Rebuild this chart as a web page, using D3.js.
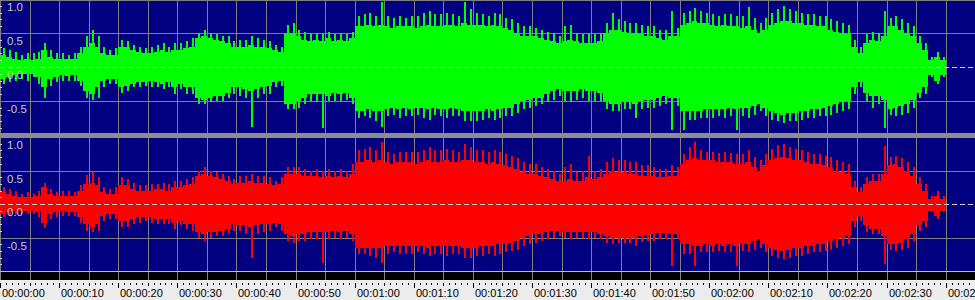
<!DOCTYPE html>
<html lang="en">
  <head>
    <meta charset="utf-8" />
    <script src="https://d3js.org/d3.v7.min.js"></script>
    <style>
      body { margin: 0; background: #ececec; }
      svg { display: block; }
    </style>
  </head>
  <body>
    <script type="text/javascript">

      // ---- data (one value per second) ----
      // left channel (green): body of the wave, then the thin peaks
      var greenHi = [
        .18,.15,.12,.10,.12,.10,.12,.25,.15,.12,
        .12,.12,.12,.20,.30,.35,.30,.20,.18,.18,
        .30,.30,.25,.22,.20,.20,.22,.25,.22,.25,
        .25,.28,.30,.42,.45,.42,.40,.38,.35,.30,
        .30,.30,.32,.30,.30,.28,.25,.22,.50,.50,
        .45,.40,.38,.40,.38,.42,.38,.40,.38,.42,
        .60,.60,.62,.60,.62,.60,.58,.60,.60,.60,
        .58,.60,.62,.60,.60,.62,.62,.60,.65,.62,
        .62,.62,.60,.62,.60,.58,.55,.50,.45,.45,
        .45,.42,.40,.38,.35,.38,.40,.38,.35,.35,
        .35,.38,.50,.55,.55,.52,.50,.50,.48,.45,
        .45,.42,.40,.45,.45,.62,.65,.68,.65,.65,
        .62,.60,.62,.60,.60,.58,.60,.55,.50,.55,
        .62,.65,.68,.68,.65,.65,.62,.62,.60,.60,
        .55,.52,.50,.48,.30,.20,.35,.40,.38,.45,
        .60,.60,.55,.50,.45,.35,.25,.10,.15,.10];
      var greenLo = [
        -.18,-.15,-.12,-.10,-.10,-.10,-.15,-.30,-.18,-.15,
        -.12,-.13,-.12,-.20,-.35,-.40,-.30,-.20,-.18,-.18,
        -.30,-.28,-.25,-.22,-.22,-.20,-.22,-.25,-.22,-.30,
        -.25,-.30,-.30,-.45,-.48,-.45,-.42,-.42,-.38,-.30,
        -.30,-.32,-.35,-.32,-.30,-.28,-.22,-.20,-.55,-.55,
        -.50,-.45,-.40,-.40,-.40,-.42,-.38,-.40,-.38,-.45,
        -.65,-.65,-.62,-.65,-.65,-.62,-.60,-.62,-.60,-.62,
        -.60,-.60,-.62,-.60,-.62,-.62,-.60,-.62,-.65,-.65,
        -.65,-.65,-.62,-.65,-.62,-.60,-.60,-.55,-.50,-.48,
        -.45,-.45,-.40,-.35,-.32,-.35,-.35,-.35,-.32,-.35,
        -.35,-.38,-.50,-.55,-.55,-.52,-.52,-.55,-.50,-.48,
        -.48,-.45,-.42,-.45,-.45,-.65,-.65,-.65,-.65,-.62,
        -.62,-.62,-.62,-.60,-.62,-.60,-.60,-.58,-.55,-.60,
        -.65,-.68,-.70,-.68,-.68,-.65,-.65,-.62,-.62,-.60,
        -.58,-.55,-.52,-.50,-.30,-.22,-.38,-.42,-.42,-.48,
        -.62,-.60,-.58,-.55,-.48,-.38,-.30,-.12,-.20,-.12];
      var greenPeakHi = [
        .28,.25,.22,.18,.20,.20,.22,.35,.25,.20,
        .20,.18,.20,.30,.45,.55,.45,.30,.25,.28,
        .40,.38,.33,.30,.28,.30,.32,.35,.30,.35,
        .35,.38,.42,.50,.55,.50,.48,.45,.45,.38,
        .40,.40,.45,.42,.40,.38,.32,.30,.62,.65,
        .55,.52,.50,.50,.48,.52,.48,.50,.48,.52,
        .75,.78,.80,.75,.95,.75,.72,.75,.72,.75,
        .75,.80,.82,.78,.78,.80,.78,.75,.95,.85,
        .80,.78,.75,.80,.78,.72,.70,.65,.60,.60,
        .58,.55,.52,.50,.45,.60,.62,.50,.48,.48,
        .48,.50,.65,.80,.70,.68,.65,.65,.62,.60,
        .60,.55,.55,.83,.58,.80,.82,.87,.82,.80,
        .78,.75,.78,.78,.75,.75,.88,.72,.65,.72,
        .80,.85,.90,.85,.82,.80,.78,.78,.75,.75,
        .70,.68,.65,.62,.40,.30,.48,.52,.50,.82,
        .72,.75,.70,.65,.60,.45,.35,.15,.22,.15];
      var greenPeakLo = [
        -.25,-.22,-.20,-.18,-.20,-.15,-.25,-.45,-.28,-.22,
        -.20,-.20,-.20,-.28,-.45,-.48,-.45,-.30,-.25,-.25,
        -.38,-.35,-.30,-.30,-.28,-.30,-.30,-.33,-.30,-.40,
        -.32,-.40,-.40,-.55,-.55,-.52,-.50,-.50,-.45,-.40,
        -.42,-.45,-.88,-.45,-.40,-.40,-.30,-.28,-.62,-.62,
        -.60,-.55,-.50,-.52,-.90,-.50,-.50,-.50,-.48,-.55,
        -.75,-.72,-.75,-.80,-.88,-.72,-.70,-.75,-.72,-.72,
        -.70,-.75,-.78,-.70,-.72,-.75,-.72,-.72,-.80,-.80,
        -.80,-.78,-.75,-.78,-.75,-.72,-.72,-.68,-.62,-.60,
        -.58,-.55,-.52,-.48,-.42,-.50,-.52,-.48,-.45,-.50,
        -.50,-.50,-.62,-.65,-.65,-.62,-.62,-.75,-.62,-.60,
        -.60,-.58,-.55,-.93,-.58,-.93,-.78,-.78,-.75,-.75,
        -.75,-.72,-.75,-.72,-.93,-.72,-.75,-.70,-.65,-.72,
        -.78,-.80,-.82,-.80,-.80,-.78,-.75,-.75,-.72,-.72,
        -.70,-.68,-.65,-.62,-.40,-.30,-.50,-.60,-.55,-.90,
        -.70,-.72,-.70,-.68,-.60,-.45,-.40,-.15,-.25,-.15];

      // right channel (red)
      var redHi = [
        .18,.15,.12,.10,.10,.10,.12,.25,.15,.12,
        .12,.12,.12,.20,.30,.32,.28,.18,.15,.15,
        .28,.28,.22,.20,.20,.20,.22,.22,.20,.25,
        .25,.28,.30,.42,.45,.42,.40,.38,.35,.30,
        .32,.32,.35,.32,.32,.30,.28,.30,.45,.45,
        .45,.42,.42,.42,.40,.42,.40,.42,.40,.45,
        .62,.62,.65,.62,.65,.62,.60,.62,.62,.62,
        .60,.62,.65,.62,.62,.65,.62,.62,.65,.65,
        .62,.62,.60,.62,.60,.58,.55,.52,.48,.45,
        .45,.42,.40,.38,.35,.35,.38,.35,.35,.40,
        .38,.40,.45,.50,.48,.48,.45,.45,.42,.42,
        .42,.40,.40,.42,.42,.60,.65,.68,.65,.65,
        .65,.62,.62,.62,.60,.60,.62,.55,.50,.58,
        .65,.68,.70,.68,.65,.65,.62,.60,.60,.58,
        .55,.50,.48,.45,.25,.18,.30,.35,.35,.45,
        .58,.60,.55,.50,.42,.30,.20,.08,.12,.08];
      var redLo = [
        -.15,-.12,-.10,-.10,-.10,-.10,-.12,-.28,-.15,-.12,
        -.10,-.12,-.12,-.20,-.30,-.35,-.30,-.18,-.15,-.15,
        -.25,-.25,-.22,-.20,-.20,-.20,-.22,-.22,-.22,-.28,
        -.25,-.30,-.30,-.42,-.45,-.42,-.42,-.40,-.38,-.30,
        -.32,-.32,-.35,-.32,-.30,-.30,-.28,-.30,-.45,-.48,
        -.45,-.45,-.42,-.42,-.42,-.42,-.40,-.42,-.40,-.45,
        -.65,-.65,-.65,-.65,-.65,-.62,-.62,-.62,-.62,-.62,
        -.62,-.62,-.65,-.62,-.62,-.62,-.62,-.62,-.65,-.65,
        -.65,-.62,-.62,-.62,-.60,-.60,-.58,-.55,-.50,-.48,
        -.45,-.45,-.42,-.40,-.40,-.42,-.42,-.42,-.42,-.42,
        -.42,-.45,-.48,-.50,-.50,-.50,-.50,-.50,-.48,-.46,
        -.45,-.44,-.44,-.45,-.45,-.60,-.60,-.62,-.62,-.60,
        -.62,-.60,-.62,-.60,-.62,-.60,-.60,-.55,-.52,-.60,
        -.65,-.68,-.70,-.68,-.65,-.65,-.62,-.62,-.60,-.60,
        -.55,-.52,-.50,-.48,-.25,-.18,-.32,-.38,-.38,-.48,
        -.60,-.60,-.58,-.52,-.45,-.32,-.25,-.10,-.18,-.10];
      var redPeakHi = [
        .25,.22,.20,.15,.18,.15,.20,.32,.22,.18,
        .20,.20,.18,.28,.43,.48,.40,.25,.22,.25,
        .40,.38,.32,.28,.28,.30,.30,.32,.30,.35,
        .35,.38,.40,.50,.55,.50,.48,.45,.42,.38,
        .42,.42,.45,.42,.42,.40,.35,.40,.55,.55,
        .55,.52,.50,.52,.50,.52,.50,.52,.50,.60,
        .80,.82,.85,.80,.92,.78,.75,.78,.78,.78,
        .78,.80,.85,.80,.80,.82,.80,.78,.90,.85,
        .80,.80,.78,.80,.78,.75,.72,.68,.62,.60,
        .60,.55,.52,.50,.45,.55,.60,.48,.50,.72,
        .50,.52,.62,.68,.65,.65,.62,.62,.58,.58,
        .55,.52,.52,.58,.55,.75,.85,.92,.80,.78,
        .78,.76,.78,.76,.75,.75,.80,.70,.65,.75,
        .82,.88,.90,.85,.82,.80,.78,.75,.75,.72,
        .70,.65,.62,.60,.35,.25,.40,.45,.45,.87,
        .70,.72,.68,.62,.55,.40,.30,.12,.20,.12];
      var redPeakLo = [
        -.20,-.18,-.15,-.15,-.15,-.15,-.20,-.36,-.22,-.20,
        -.18,-.18,-.18,-.28,-.40,-.42,-.40,-.25,-.22,-.22,
        -.35,-.35,-.30,-.28,-.26,-.28,-.30,-.30,-.30,-.38,
        -.32,-.38,-.40,-.50,-.55,-.50,-.48,-.48,-.45,-.40,
        -.40,-.45,-.80,-.45,-.42,-.40,-.35,-.40,-.55,-.58,
        -.55,-.55,-.52,-.52,-.88,-.52,-.50,-.52,-.50,-.55,
        -.75,-.75,-.78,-.80,-.88,-.75,-.72,-.75,-.75,-.75,
        -.72,-.75,-.78,-.75,-.75,-.78,-.75,-.75,-.80,-.80,
        -.78,-.78,-.75,-.78,-.75,-.72,-.70,-.68,-.62,-.60,
        -.58,-.55,-.52,-.50,-.48,-.50,-.52,-.50,-.50,-.52,
        -.50,-.52,-.58,-.60,-.58,-.58,-.58,-.62,-.56,-.55,
        -.55,-.52,-.52,-.93,-.52,-.75,-.75,-.93,-.72,-.72,
        -.72,-.70,-.72,-.72,-.92,-.70,-.72,-.68,-.65,-.72,
        -.78,-.80,-.82,-.80,-.78,-.78,-.75,-.72,-.72,-.70,
        -.68,-.65,-.62,-.60,-.35,-.25,-.42,-.45,-.45,-.90,
        -.68,-.70,-.68,-.65,-.55,-.40,-.35,-.12,-.22,-.12];

      // axis labels
      var timeTicks = [0, 10, 20, 30, 40, 50, 60, 70, 80, 90, 100, 110, 120, 130, 140, 150, 160];
      var timeLabels = ["00:00:00", "00:00:10", "00:00:20", "00:00:30", "00:00:40",
                        "00:00:50", "00:01:00", "00:01:10", "00:01:20", "00:01:30",
                        "00:01:40", "00:01:50", "00:02:00", "00:02:10", "00:02:20",
                        "00:02:30", "00:02:40"];
      var ampTicks = [1.0, 0.5, 0.0, -0.5];
      var ampLabels = ["1.0", "0.5", "0.0", "-0.5"];

      // ---- layout ----
      var w = 975;
      var h = 300;
      var bgBlue = "#000080";
      var gridGray = "#808080";

      var svg = d3.select("body")
                  .append("svg")
                  .attr("width", w)
                  .attr("height", h)
                  .style("font-family", "'Liberation Sans', Arial, sans-serif");

      // time scale, same for both channels
      var x = d3.scaleLinear()
                .domain([0, 160])
                .range([0, 945.7]);

      // one amplitude scale per channel
      var channels = [
        {hi: greenHi, lo: greenLo, pkHi: greenPeakHi, pkLo: greenPeakLo, color: "#00ff00",
         y: d3.scaleLinear().domain([-1, 1]).range([135, -1])},
        {hi: redHi, lo: redLo, pkHi: redPeakHi, pkLo: redPeakLo, color: "#ff0000",
         y: d3.scaleLinear().domain([-1, 1]).range([271, 137])}
      ];

      // backgrounds
      svg.append("rect").attr("width", w).attr("height", 272).attr("fill", bgBlue);
      svg.append("rect").attr("y", 272).attr("width", w).attr("height", 8).attr("fill", "#000");
      svg.append("rect").attr("y", 280).attr("width", w).attr("height", 20).attr("fill", "#ececec");

      // vertical grid every 5 seconds
      var gridSecs = d3.range(0, 170, 5);
      svg.append("g")
         .selectAll("line")
         .data(gridSecs)
         .enter()
         .append("line")
         .attr("x1", function(d) { return Math.round(x(d)) + 0.5; })
         .attr("x2", function(d) { return Math.round(x(d)) + 0.5; })
         .attr("y1", 0)
         .attr("y2", 280)
         .attr("stroke", gridGray);

      // horizontal grid and waves per channel
      channels.forEach(function(ch) {
        svg.append("g")
           .selectAll("line")
           .data([1, 0.5, -0.5])
           .enter()
           .append("line")
           .attr("x1", 0)
           .attr("x2", w)
           .attr("y1", function(d) { return Math.round(ch.y(d)) + 0.5; })
           .attr("y2", function(d) { return Math.round(ch.y(d)) + 0.5; })
           .attr("stroke", gridGray);

        var idx = d3.range(ch.hi.length + 1);
        var last = ch.hi.length - 1;

        // body of the wave
        var area = d3.area()
                     .curve(d3.curveStepAfter)
                     .x(function(i) { return x(i); })
                     .y0(function(i) { return ch.y(ch.lo[Math.min(i, last)]); })
                     .y1(function(i) { return ch.y(ch.hi[Math.min(i, last)]); });
        svg.append("path")
           .datum(idx)
           .attr("d", area)
           .attr("fill", ch.color)
           .attr("shape-rendering", "crispEdges");

        // thin peaks
        svg.append("g")
           .selectAll("rect")
           .data(ch.pkHi)
           .enter()
           .append("rect")
           .attr("x", function(d, i) { return Math.round(x(i + 0.5)); })
           .attr("width", 2)
           .attr("y", function(d) { return ch.y(d); })
           .attr("height", function(d, i) { return ch.y(ch.pkLo[i]) - ch.y(d); })
           .attr("fill", ch.color)
           .attr("shape-rendering", "crispEdges");

        // dashed zero line
        svg.append("line")
           .attr("x1", 0)
           .attr("x2", w)
           .attr("y1", Math.round(ch.y(0)) + 0.5)
           .attr("y2", Math.round(ch.y(0)) + 0.5)
           .attr("stroke", "#d0d0d0")
           .attr("stroke-dasharray", "5,3");

        // little marks on the left edge every 0.1
        svg.append("g")
           .selectAll("rect")
           .data(d3.range(-9, 10).filter(function(k) { return k % 5 != 0; }))
           .enter()
           .append("rect")
           .attr("x", 0)
           .attr("y", function(k) { return Math.round(ch.y(k / 10)); })
           .attr("width", 2)
           .attr("height", 1)
           .attr("fill", "#d0d0d0");

        // amplitude labels
        svg.append("g")
           .selectAll("text")
           .data(ampTicks)
           .enter()
           .append("text")
           .attr("x", 7)
           .attr("y", function(d) { return ch.y(d) + 12; })
           .attr("fill", "#c8c8c8")
           .style("font-size", "11.5px")
           .text(function(d, i) { return ampLabels[i]; });
      });

      // gray bar between the two channels and edges
      svg.append("rect").attr("y", 133).attr("width", w).attr("height", 5).attr("fill", "#8c8c8c");
      svg.append("rect").attr("y", 0).attr("width", w).attr("height", 1).attr("fill", gridGray);
      svg.append("rect").attr("y", 271).attr("width", w).attr("height", 1).attr("fill", "#c0c0c0");

      // time ruler: small ticks every second
      svg.append("g")
         .selectAll("rect")
         .data(d3.range(0, 166))
         .enter()
         .append("rect")
         .attr("x", function(d) { return Math.round(x(d)); })
         .attr("y", 283)
         .attr("width", 1)
         .attr("height", function(d) { return d % 10 == 0 ? 5 : (d % 5 == 0 ? 3 : 2); })
         .attr("fill", "#000");

      // time labels (the last one runs off the right edge, as in the original)
      svg.append("g")
         .selectAll("text")
         .data(timeTicks)
         .enter()
         .append("text")
         .attr("x", function(d) { return Math.round(x(d)) + 2; })
         .attr("y", 297)
         .attr("fill", "#000")
         .style("font-size", "11px")
         .text(function(d, i) { return timeLabels[i]; });

    </script>
  </body>
</html>
